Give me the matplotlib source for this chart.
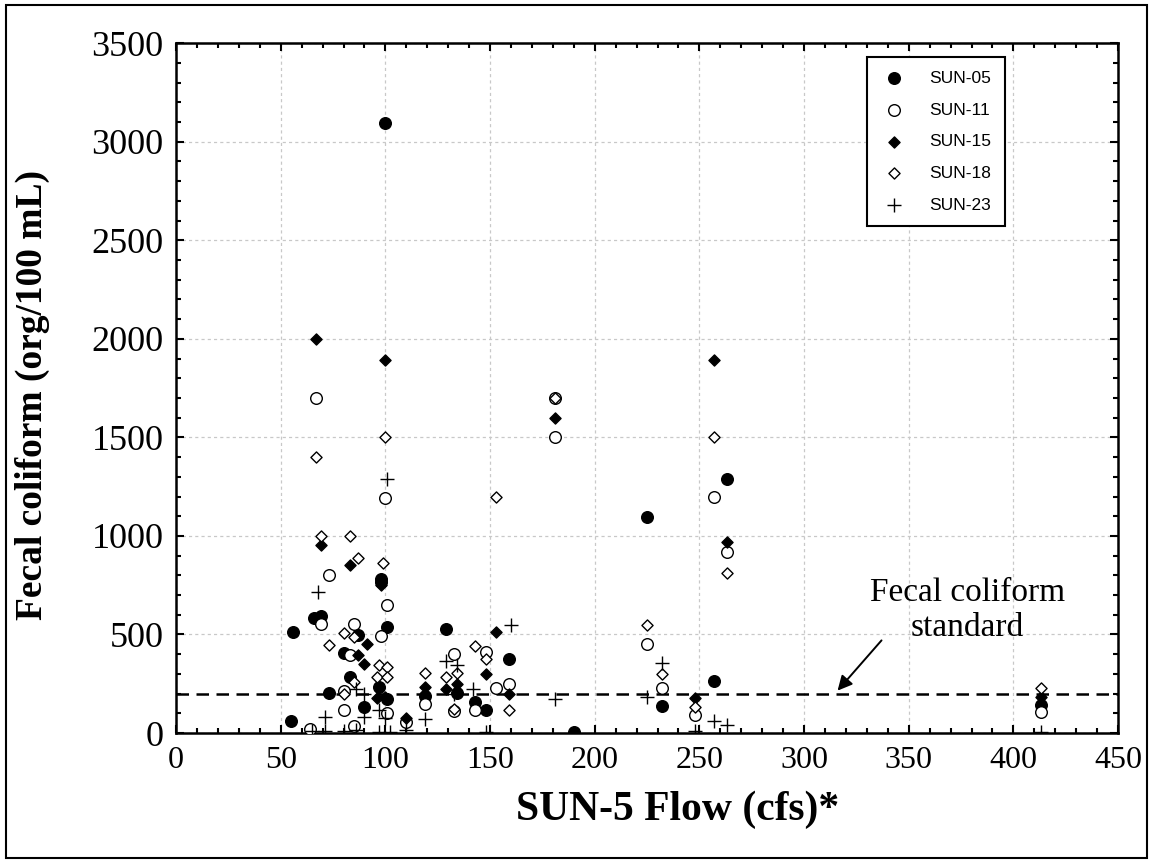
import matplotlib
matplotlib.use("Agg")
import matplotlib.pyplot as plt
from matplotlib.ticker import MultipleLocator
from matplotlib.patches import Rectangle

# flow (cfs) / fecal coliform (org/100 mL)
sun05_x = [56, 55, 66, 69, 73, 80, 83, 87, 90, 98, 98, 97, 101, 101, 100, 119,
           129, 134, 143, 148, 159, 190, 225, 232, 257, 263, 413]
sun05_y = [515, 60, 585, 595, 205, 405, 285, 495, 130, 780, 765, 235, 540, 175,
           3095, 190, 530, 205, 155, 115, 375, 5, 1095, 135, 265, 1290, 140]

sun11_x = [64, 69, 73, 67, 80, 80, 83, 85, 85, 100, 101, 98, 101, 110, 119,
           133, 133, 143, 148, 153, 159, 181, 181, 225, 232, 248, 257, 263, 413]
sun11_y = [20, 555, 800, 1700, 215, 115, 395, 555, 35, 1190, 650, 490, 100, 55,
           145, 400, 110, 115, 410, 230, 250, 1700, 1500, 450, 230, 90, 1195,
           920, 105]

sun15_x = [67, 69, 83, 87, 90, 91, 96, 100, 98, 100, 110, 119, 129, 134, 148,
           153, 159, 181, 248, 257, 263, 413]
sun15_y = [2000, 955, 850, 395, 350, 450, 180, 185, 750, 1895, 75, 235, 225,
           250, 300, 515, 200, 1600, 180, 1895, 970, 185]

sun18_x = [67, 69, 73, 80, 80, 83, 85, 85, 87, 97, 101, 96, 101, 99, 100, 119,
           129, 134, 133, 143, 148, 153, 159, 181, 225, 232, 248, 257, 263, 413]
sun18_y = [1400, 1000, 445, 505, 200, 1000, 485, 260, 890, 345, 335, 285, 285,
           865, 1500, 305, 285, 305, 120, 440, 375, 1195, 115, 1700, 550, 300,
           130, 1500, 810, 230]

sun23_x = [65, 68, 71, 71, 80, 86, 86, 90, 90, 97, 100, 97, 101, 102, 110, 119,
           129, 134, 133, 142, 148, 160, 181, 225, 232, 248, 257, 263, 413]
sun23_y = [10, 715, 80, 10, 10, 225, 15, 200, 80, 115, 75, 5, 1290, 5, 15, 70,
           365, 345, 200, 225, 5, 550, 175, 185, 355, 10, 60, 40, 5]

standard = 200

plt.rcParams['font.family'] = 'Liberation Serif'

fig = plt.figure(figsize=(11.53, 8.63), dpi=100)
ax = fig.add_axes([0.1527, 0.1506, 0.8170, 0.7994])

ax.scatter(sun05_x, sun05_y, s=70, marker='o', c='black', label='SUN-05', zorder=3)
ax.scatter(sun11_x, sun11_y, s=70, marker='o', facecolors='white',
           edgecolors='black', linewidths=1.0, label='SUN-11', zorder=3)
ax.scatter(sun15_x, sun15_y, s=32, marker='D', c='black', label='SUN-15', zorder=3)
ax.scatter(sun18_x, sun18_y, s=32, marker='D', facecolors='white',
           edgecolors='black', linewidths=1.0, label='SUN-18', zorder=3)
ax.scatter(sun23_x, sun23_y, s=110, marker='+', c='black', linewidths=1.0,
           label='SUN-23', zorder=3)

ax.axhline(standard, color='black', lw=1.8, dashes=(5, 3), zorder=2)

# standard label + arrow
ax.text(378, 622, 'Fecal coliform\nstandard', ha='center', va='center',
        fontsize=24, linespacing=1.2)
ax.annotate('', xy=(316, 215), xytext=(337, 470),
            arrowprops=dict(arrowstyle='-|>', color='black', lw=1.4,
                            mutation_scale=22, shrinkA=0, shrinkB=0))

ax.set_xlim(0, 450)
ax.set_ylim(0, 3500)
ax.xaxis.set_major_locator(MultipleLocator(50))
ax.xaxis.set_minor_locator(MultipleLocator(10))
ax.yaxis.set_major_locator(MultipleLocator(500))
ax.yaxis.set_minor_locator(MultipleLocator(100))
ax.tick_params(which='both', direction='in', top=True, right=True, width=1.5)
ax.tick_params(which='major', length=6)
ax.tick_params(which='minor', length=3.5)
ax.tick_params(axis='x', labelsize=23, pad=9)
ax.tick_params(axis='y', labelsize=26, pad=9)

ax.grid(True, which='major', color='#c8c8c8', linestyle=(0, (2.5, 2.5)), lw=0.9)
ax.set_axisbelow(True)
for sp in ax.spines.values():
    sp.set_linewidth(1.8)

ax.set_xlabel('SUN-5 Flow (cfs)*', fontsize=30, fontweight='bold')
ax.set_ylabel('Fecal coliform (org/100 mL)', fontsize=27, fontweight='bold')
ax.xaxis.set_label_coords(0.532, -0.083)
ax.yaxis.set_label_coords(-0.134, 0.49)

leg = ax.legend(loc='upper right', bbox_to_anchor=(0.880, 0.980), borderaxespad=0,
                fancybox=False, framealpha=1, edgecolor='black', labelspacing=0.95,
                handletextpad=1.2, borderpad=0.8, handlelength=1.6,
                prop={'family': 'Liberation Sans', 'size': 12.5}, scatterpoints=1)
leg.get_frame().set_linewidth(1.5)

fig.patches.append(Rectangle((0.005, 0.006), 0.99, 0.988, transform=fig.transFigure,
                             fill=False, edgecolor='black', lw=1.5))

fig.savefig('out.png', dpi=100)
